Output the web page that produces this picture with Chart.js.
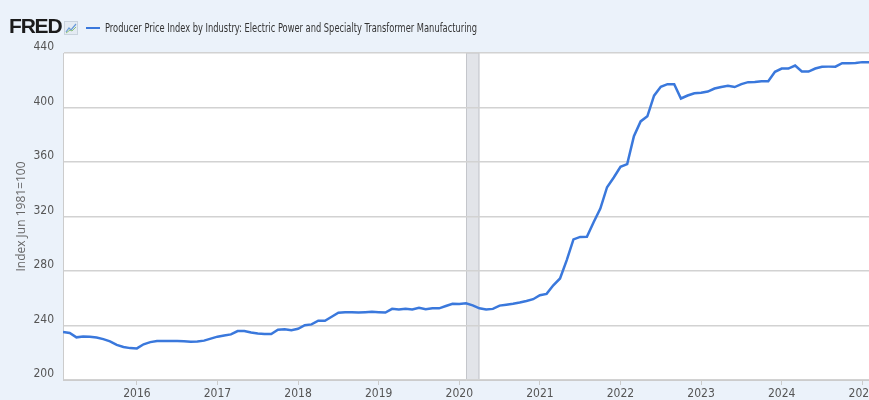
<!DOCTYPE html>
<html lang="en">
<head>
<meta charset="UTF-8">
<title>Producer Price Index by Industry: Electric Power and Specialty Transformer Manufacturing</title>
<script src="https://cdn.jsdelivr.net/npm/chart.js"></script>
<style>
  html, body { margin: 0; padding: 0; background: #ebf2fa; }
  #wrap { position: relative; width: 869px; height: 400px; overflow: hidden; }
  #chartBox { position: absolute; left: 0; top: 0; width: 869px; height: 400px; }
  #logo { position: absolute; left: 9px; top: 14px; font: bold 21px 'Liberation Sans', Arial, sans-serif; letter-spacing: -1.2px; color: #1b1b1b; }
  #icon { position: absolute; left: 64px; top: 21px; }
  #legendLine { position: absolute; left: 86px; top: 27px; width: 14px; height: 2px; background: #3a78dc; }
  #legendText { position: absolute; left: 105px; top: 20px; font: 13px 'Liberation Sans Narrow', 'DejaVu Sans Condensed', Roboto, sans-serif; color: #333; white-space: nowrap; transform-origin: left center; }
</style>
</head>
<body>
<div id="wrap">
  <div id="chartBox"><canvas id="ppiChart"></canvas></div>
  <div id="logo">FRED</div>
  <svg id="icon" width="14" height="14" viewBox="0 0 14 14">
    <rect x="0.5" y="0.5" width="13" height="13" fill="#e4ebf3" stroke="#c9d3de"/>
    <polyline points="2,11 5,7 7,9 12,3" fill="none" stroke="#6a9bd8" stroke-width="1.2"/>
    <polyline points="2,12 6,9 8,10 12,6" fill="none" stroke="#8fc37a" stroke-width="1"/>
  </svg>
  <div id="legendLine"></div>
  <div id="legendText">Producer Price Index by Industry: Electric Power and Specialty Transformer Manufacturing</div>
</div>
<script>
// monthly series, Feb 2015 .. Feb 2025
const startYear = 2015;
const startMonth = 2;
const ppi = [
  235.3, 234.5, 231.3, 232.0, 231.7, 231.2, 230.0, 228.4, 225.8, 224.2, 223.4,
  223.2, 226.2, 227.8, 228.7, 228.7, 228.7, 228.6, 228.4, 228.1, 228.3, 228.9, 230.4,
  231.8, 232.6, 233.5, 235.9, 236.0, 234.8, 234.1, 233.8, 233.8, 236.9, 237.2, 236.6,
  237.6, 240.2, 240.8, 243.5, 243.5, 246.4, 249.4, 249.8, 249.8, 249.6, 249.8, 250.0,
  249.7, 249.5, 252.2, 251.7, 252.3, 251.8, 253.0, 251.9, 252.6, 252.6, 254.3, 256.0,
  255.8, 256.3, 254.8, 252.6, 251.7, 252.2, 254.6, 255.3, 256.0, 256.9, 258.0, 259.3,
  262.2, 263.2, 269.5, 274.5, 288.0, 303.2, 305.0, 305.2, 315.8, 325.8, 341.5, 348.6,
  356.5, 358.5, 378.9, 389.8, 393.5, 408.7, 415.2, 417.1, 417.1, 406.6, 408.8, 410.5,
  410.8, 411.7, 413.9, 415.1, 415.9, 415.0, 417.2, 418.6, 418.7, 419.3, 419.3, 426.2,
  428.6, 428.6, 430.8, 426.4, 426.4, 428.6, 429.9, 430.0, 430.0, 432.5, 432.5, 432.7,
  433.3, 433.3
];
const yTicks = [200, 240, 280, 320, 360, 400, 440];
const yearTicks = [2016, 2017, 2018, 2019, 2020, 2021, 2022, 2023, 2024, 2025];
// recession shading: Feb 2020 - Apr 2020
const recessions = [[2020 + 1 / 12, 2020 + 3 / 12]];

const points = ppi.map((v, i) => ({ x: startYear + (startMonth - 1 + i) / 12, y: v }));

const tickFont = { family: "'Liberation Sans Narrow', 'DejaVu Sans Condensed', Roboto, sans-serif", size: 12 };

const plotBg = {
  id: 'plotBg',
  beforeDraw(chart) {
    const { ctx, chartArea: a, scales: { x } } = chart;
    ctx.save();
    ctx.fillStyle = '#ffffff';
    ctx.fillRect(a.left, a.top, a.right - a.left, a.bottom - a.top);
    recessions.forEach(([s, e]) => {
      const x0 = x.getPixelForValue(s), x1 = x.getPixelForValue(e);
      ctx.fillStyle = '#e2e4e9';
      ctx.fillRect(x0, a.top, x1 - x0, a.bottom - a.top);
      ctx.strokeStyle = '#c4c6cb';
      ctx.lineWidth = 1;
      ctx.strokeRect(x0 + 0.5, a.top, x1 - x0 - 1, a.bottom - a.top);
    });
    ctx.restore();
  }
};

new Chart(document.getElementById('ppiChart'), {
  type: 'line',
  data: {
    datasets: [{
      label: 'Producer Price Index by Industry: Electric Power and Specialty Transformer Manufacturing',
      data: points,
      borderColor: '#3a78dc',
      borderWidth: 2.5,
      pointRadius: 0,
      tension: 0
    }]
  },
  options: {
    responsive: true,
    maintainAspectRatio: false,
    animation: false,
    layout: { padding: { top: 53, left: 10, right: 0, bottom: 0 } },
    plugins: { legend: { display: false }, tooltip: { enabled: false } },
    scales: {
      x: {
        type: 'linear',
        min: points[0].x,
        max: points[points.length - 1].x,
        afterBuildTicks: s => { s.ticks = yearTicks.map(v => ({ value: v })); },
        afterFit: s => { s.height = 20; s.paddingRight = 0; },
        ticks: { font: tickFont, color: '#555', padding: 2, maxRotation: 0, callback: v => String(v) },
        grid: { drawOnChartArea: false, color: '#cccccc', tickLength: 5 },
        border: { color: '#cccccc' }
      },
      y: {
        min: 200,
        max: 440,
        afterBuildTicks: s => { s.ticks = yTicks.map(v => ({ value: v })); },
        afterFit: s => { s.width = 53; s.paddingTop = 0; },
        ticks: { font: tickFont, color: '#555', padding: 9, labelOffset: -6 },
        grid: { color: '#d2d2d2', lineWidth: 1.5, drawTicks: false },
        border: { color: '#cccccc' },
        title: { display: true, text: 'Index Jun 1981=100', color: '#666', font: { family: "'Open Sans', sans-serif", size: 12 } }
      }
    }
  },
  plugins: [plotBg]
});

// squeeze the legend text to the width it has in the reference
const lt = document.getElementById('legendText');
lt.style.transform = 'scaleX(' + (372 / lt.offsetWidth) + ')';
</script>
</body>
</html>
